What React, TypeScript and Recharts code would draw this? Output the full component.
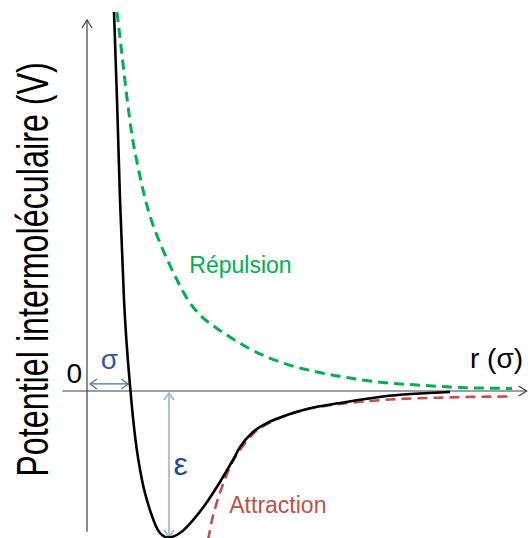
import React from 'react';
import { ComposedChart, Line, XAxis, YAxis, ReferenceLine, ReferenceDot } from 'recharts';

// r in units of sigma, V in units of epsilon
const totalR = [0.621, 0.69, 0.759, 0.851, 1.0, 1.115, 1.264, 1.448, 1.678, 1.862, 2.138, 2.437, 2.759, 3.057, 3.356, 3.517, 3.816, 4.138, 4.598, 5.057, 5.816, 6.805, 8.345];
const totalV = [2.578, 1.98, 1.299, 0.619, 0, -0.333, -0.605, -0.81, -0.966, -0.997, -0.966, -0.878, -0.755, -0.619, -0.469, -0.382, -0.279, -0.218, -0.163, -0.122, -0.082, -0.037, -0.007];

const repR = [0.69, 0.805, 0.92, 1.034, 1.172, 1.333, 1.448, 1.632, 1.839, 2.069, 2.322, 2.598, 2.943, 3.287, 3.747, 4.506, 5.287, 6.046, 6.805, 7.586, 8.345, 9.77];
const repV = [2.578, 2.286, 1.993, 1.741, 1.524, 1.313, 1.19, 1.041, 0.898, 0.755, 0.619, 0.517, 0.435, 0.367, 0.286, 0.19, 0.129, 0.088, 0.058, 0.041, 0.027, 0.017];

const attR = [2.782, 2.805, 2.874, 2.966, 3.103, 3.287, 3.517, 3.816, 4.276, 4.736, 5.195, 5.816, 6.966, 8.276, 9.77];
const attV = [-1.014, -0.98, -0.878, -0.776, -0.653, -0.517, -0.401, -0.293, -0.204, -0.15, -0.116, -0.088, -0.058, -0.044, -0.037];

const xDomain: [number, number] = [-2, 10.138];
const yDomain: [number, number] = [-1, 2.66];

const total = totalR.map((r, i) => ({ r, v: totalV[i] }));
const repulsion = repR.map((r, i) => ({ r, v: repV[i] }));
const attraction = attR.map((r, i) => ({ r, v: attV[i] }));

const FONT = '"Liberation Sans", Arial, sans-serif';

function head(x: number, y: number, dx: number, dy: number, len: number, half: number) {
  const bx = x - dx * len;
  const by = y - dy * len;
  const px = -dy * half;
  const py = dx * half;
  return `M${bx + px},${by + py} L${x},${y} L${bx - px},${by - py}`;
}

function makeArrow(color: string, width: number, atStart: boolean, atEnd: boolean, len: number, half: number) {
  return (p: any) => {
    const { x1, y1, x2, y2 } = p;
    const L = Math.hypot(x2 - x1, y2 - y1) || 1;
    const dx = (x2 - x1) / L;
    const dy = (y2 - y1) / L;
    return (
      <g>
        <line x1={x1} y1={y1} x2={x2} y2={y2} stroke={color} strokeWidth={width} />
        {atEnd && <path d={head(x2, y2, dx, dy, len, half)} fill="none" stroke={color} strokeWidth={width} />}
        {atStart && <path d={head(x1, y1, -dx, -dy, len, half)} fill="none" stroke={color} strokeWidth={width} />}
      </g>
    );
  };
}

function makeText(text: string, color: string, size: number, anchor: 'start' | 'middle' | 'end') {
  return (p: any) => (
    <text x={p.cx} y={p.cy} fill={color} fontSize={size} fontFamily={FONT} textAnchor={anchor}>
      {text}
    </text>
  );
}

// vertical title: glyphs stretched perpendicular to the baseline
function makeTitle(text: string, size: number, stretch: number) {
  return (p: any) => (
    <text
      x={0}
      y={0}
      fill="#000"
      fontSize={size}
      fontFamily={FONT}
      textAnchor="middle"
      transform={`translate(${p.cx} ${p.cy}) rotate(-90) scale(1 ${stretch})`}
    >
      {text}
    </text>
  );
}

export default function App() {
  return (
    <div style={{ position: 'absolute', left: 0, top: 0, width: 528, height: 538, background: '#fff' }}>
      <ComposedChart width={528} height={538} margin={{ top: 0, right: 0, bottom: 0, left: 0 }}>
        <XAxis type="number" dataKey="r" domain={xDomain} allowDataOverflow hide />
        <YAxis type="number" dataKey="v" domain={yDomain} allowDataOverflow hide />

        {/* axes */}
        <ReferenceLine
          segment={[{ x: -0.568, y: 0 }, { x: 10.108, y: 0 }]}
          shape={makeArrow('#404040', 1.2, false, true, 8, 5)}
        />
        <ReferenceLine
          segment={[{ x: 0, y: -0.958 }, { x: 0, y: 2.524 }]}
          shape={makeArrow('#404040', 1.2, false, true, 8, 5)}
        />

        {/* sigma and epsilon arrows */}
        <ReferenceLine
          segment={[{ x: 0.069, y: 0.048 }, { x: 0.949, y: 0.048 }]}
          shape={makeArrow('#4a6fa5', 1.2, true, true, 7, 5)}
        />
        <ReferenceLine
          segment={[{ x: 1.885, y: -0.0136 }, { x: 1.885, y: -0.993 }]}
          shape={makeArrow('#95b3d7', 1.6, true, true, 7, 5)}
        />

        <Line data={repulsion} dataKey="v" type="monotone" stroke="#00b050" strokeWidth={3} strokeDasharray="10 6" dot={false} activeDot={false} isAnimationActive={false} />
        <Line data={attraction} dataKey="v" type="monotone" stroke="#c0504d" strokeWidth={2.6} strokeDasharray="10 6" dot={false} activeDot={false} isAnimationActive={false} />
        <Line data={total} dataKey="v" type="monotone" stroke="#000000" strokeWidth={2.6} strokeLinecap="butt" dot={false} activeDot={false} isAnimationActive={false} />

        {/* labels */}
        <ReferenceDot x={-0.115} y={0.052} r={0} shape={makeText('0', '#000', 28, 'end')} />
        <ReferenceDot x={0.517} y={0.15} r={0} shape={makeText('σ', '#2f5b9c', 28, 'middle')} />
        <ReferenceDot x={2.154} y={-0.571} r={0} shape={makeText('ε', '#1f4e8c', 32, 'middle')} />
        <ReferenceDot x={8.805} y={0.159} r={0} shape={makeText('r (σ)', '#000', 28, 'start')} />
        <ReferenceDot x={2.352} y={0.805} r={0} shape={makeText('Répulsion', '#00b050', 23, 'start')} />
        <ReferenceDot x={3.271} y={-0.832} r={0} shape={makeText('Attraction', '#c0504d', 23, 'start')} />
        <ReferenceDot x={-0.897} y={0.827} r={0} shape={makeTitle('Potentiel intermoléculaire (V)', 32.3, 1.36)} />
      </ComposedChart>
    </div>
  );
}
